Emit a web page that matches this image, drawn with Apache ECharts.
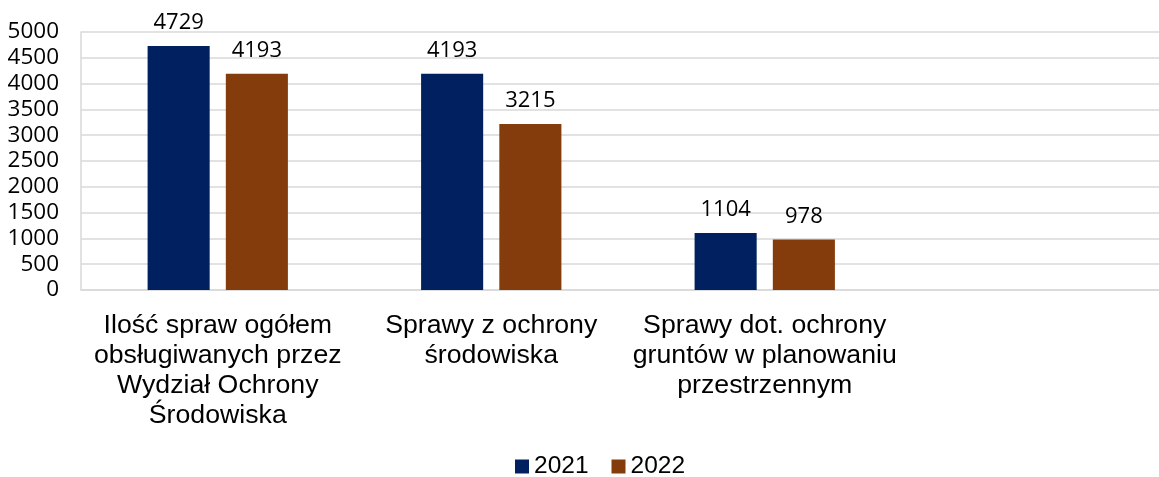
<!DOCTYPE html>
<html>
<head>
<meta charset="utf-8">
<script src="https://cdn.jsdelivr.net/npm/echarts@6/dist/echarts.min.js"></script>
<style>html,body{margin:0;padding:0;background:#fff;overflow:hidden}#c{width:1175px;height:477px}</style>
</head>
<body>
<div id="c"></div>
<script>
var categories = [
  "Ilość spraw ogółem\nobsługiwanych przez\nWydział Ochrony\nŚrodowiska",
  "Sprawy z ochrony\nśrodowiska",
  "Sprawy dot. ochrony\ngruntów w planowaniu\nprzestrzennym",
  ""
];
var seriesNames = ["2021", "2022"];
var values2021 = [4729, 4193, 1104, null];
var values2022 = [4193, 3215, 978, null];
var yTicks = { min: 0, max: 5000, interval: 500 };

var chart = echarts.init(document.getElementById('c'));
var labelStyle = { show: true, position: 'top', distance: 12, color: '#000', fontFamily: 'Open Sans', fontSize: 22 };
chart.setOption({
  animation: false,
  grid: { left: 81, right: 0, top: 32, bottom: 187, containLabel: false },
  legend: {
    top: 449, left: 510, itemWidth: 14, itemHeight: 14, itemGap: 23,
    icon: 'rect',
    textStyle: { fontFamily: 'Liberation Sans', fontSize: 24.5, color: '#000' },
    data: seriesNames
  },
  xAxis: {
    type: 'category', data: categories,
    axisLine: { lineStyle: { color: '#d9d9d9', width: 1.5 } },
    axisTick: { show: false },
    axisLabel: { interval: 0, margin: 20, fontFamily: 'Liberation Sans', fontSize: 26.7, lineHeight: 30.3, color: '#000' }
  },
  yAxis: {
    type: 'value', min: yTicks.min, max: yTicks.max, interval: yTicks.interval,
    axisLine: { show: true, lineStyle: { color: '#d9d9d9', width: 1.5 } },
    splitLine: { lineStyle: { color: '#d9d9d9', width: 1.5 } },
    axisLabel: { margin: 22, fontFamily: 'Open Sans', fontSize: 22.5, color: '#000', formatter: function (v) { return String(v); } }
  },
  series: [
    { name: seriesNames[0], type: 'bar', data: values2021, barWidth: '22.7%', barGap: '26%',
      itemStyle: { color: '#002060' }, label: labelStyle },
    { name: seriesNames[1], type: 'bar', data: values2022, barWidth: '22.7%', barGap: '26%',
      itemStyle: { color: '#843C0C' }, label: labelStyle }
  ]
});
</script>
</body>
</html>
